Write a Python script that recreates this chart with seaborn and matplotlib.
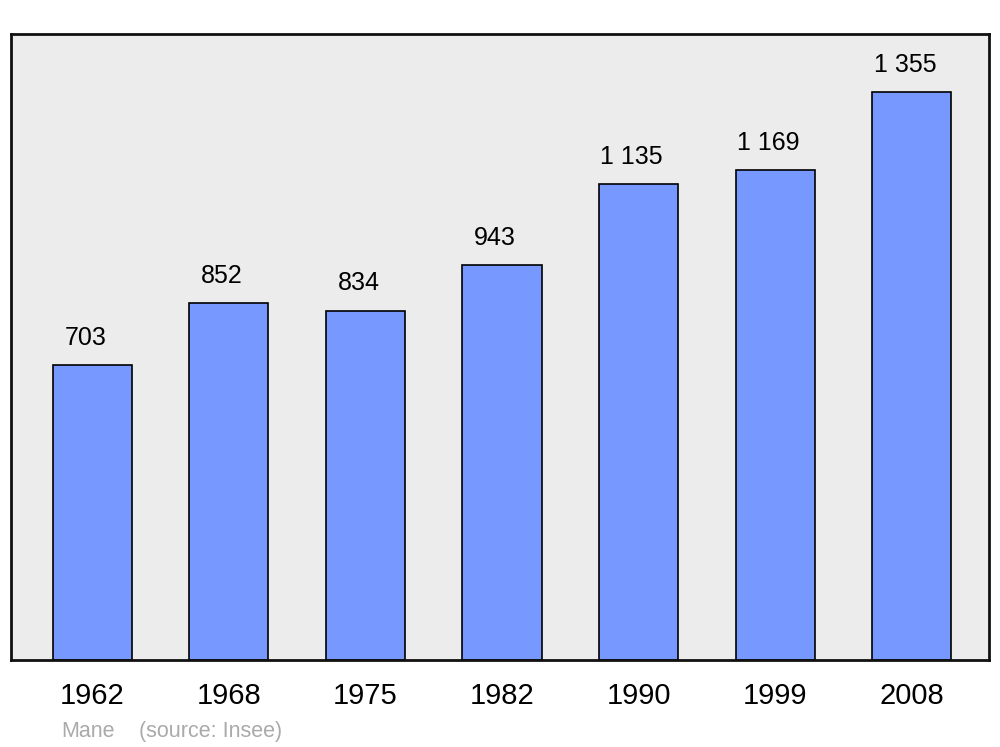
import pandas as pd
import matplotlib
matplotlib.use("Agg")
import matplotlib.pyplot as plt
import seaborn as sns

# Population data
years = ["1962", "1968", "1975", "1982", "1990", "1999", "2008"]
population = [703, 852, 834, 943, 1135, 1169, 1355]
labels = ["703", "852", "834", "943", "1 135", "1 169", "1 355"]

data = pd.DataFrame({"Year": years, "Population": population})

sns.set_style("white")
plt.rcParams["font.family"] = ["Liberation Sans", "DejaVu Sans"]
plt.rcParams["text.color"] = "black"
plt.rcParams["xtick.color"] = "black"

fig = plt.figure(figsize=(10, 7.47), dpi=100)
ax = fig.add_axes([0.011, 0.1165, 0.978, 0.838])
ax.set_facecolor("#ececec")

sns.barplot(data=data, x="Year", y="Population", color="#7799ff",
            saturation=1, width=0.58, edgecolor="black", linewidth=1.2, ax=ax)

ax.set_xlim(-0.595, 6.565)
ax.set_ylim(0, 1494)

# value labels
for i, (v, t) in enumerate(zip(population, labels)):
    ax.annotate(t, (i, v), xytext=(-5, 11), textcoords="offset points",
                ha="center", va="bottom", fontsize=18, color="black")

ax.set_xlabel("")
ax.set_ylabel("")
ax.set_yticks([])
ax.tick_params(axis="x", length=0, labelsize=21, pad=16, labelcolor="black")
for lbl in ax.get_xticklabels():
    lbl.set_x(lbl.get_position()[0] - 0.015)
for s in ax.spines.values():
    s.set_visible(True)
    s.set_linewidth(2)
    s.set_color("#111111")

fig.text(0.061, 0.013, "Mane", color="#aaaaaa", fontsize=15.5)
fig.text(0.139, 0.013, "(source: Insee)", color="#aaaaaa", fontsize=15.5)

fig.savefig("out.png", dpi=100)
